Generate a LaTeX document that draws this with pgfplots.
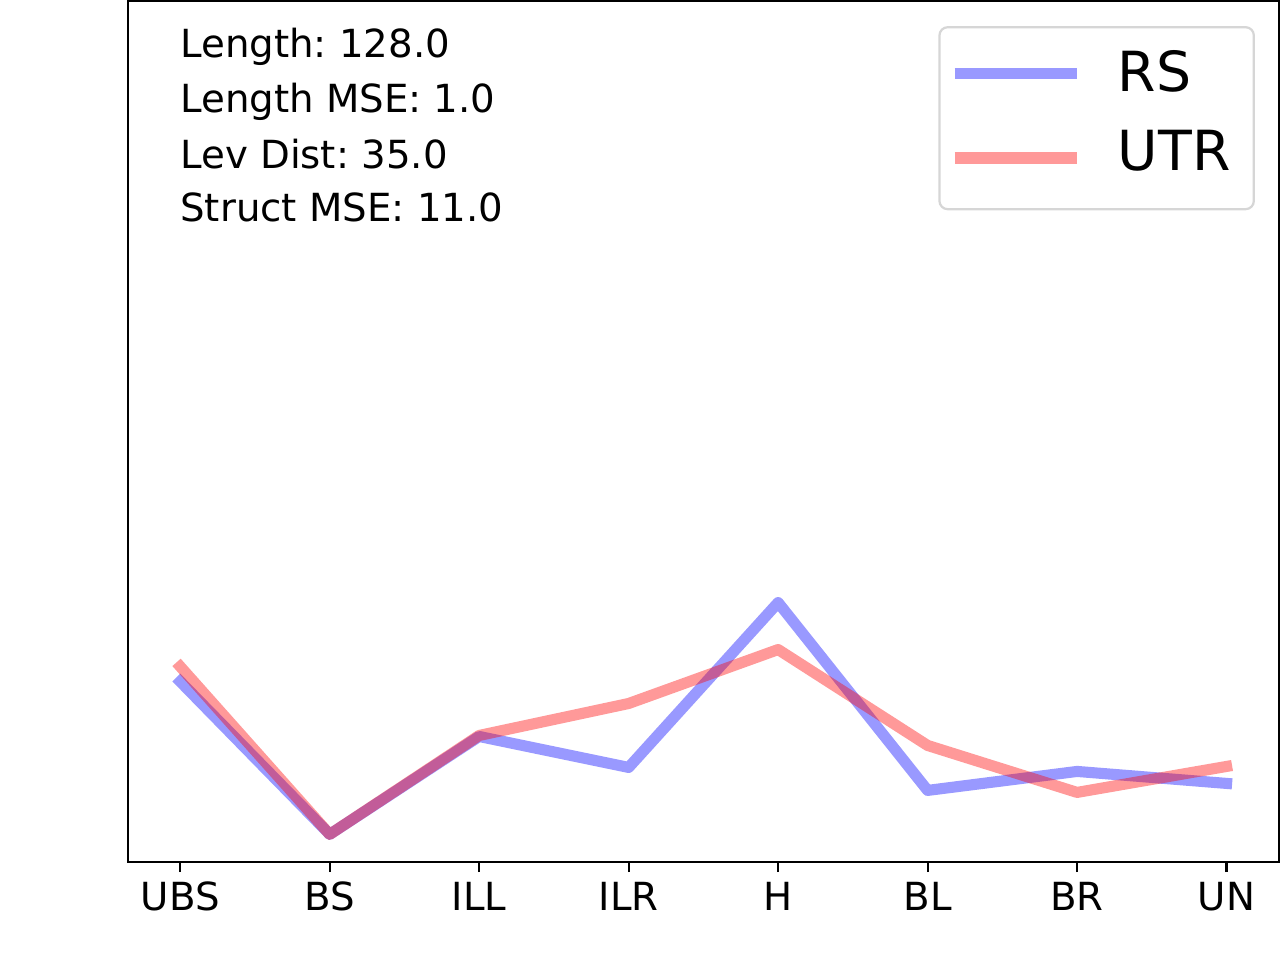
\documentclass[border=0pt]{standalone}
\usepackage{pgfplots}
\pgfplotsset{compat=1.18}
\usepackage{fontspec}
\setmainfont{DejaVu Sans}

% values, in its pixel scale (0 = x axis line)
\pgfplotstableread{
x rs  utr
0 181 196
1 28  28
2 126 127
3 95  159
4 260 213
5 72  117
6 91  70
7 79  96
}\scores

\begin{document}
\frenchspacing
\begin{tikzpicture}
\begin{axis}[
    name=ax, at={(0,0)}, anchor=south west,
    scale only axis,
    width=414.72bp, height=310.32bp,
    xmin=-0.35, xmax=7.35,
    ymin=0, ymax=862,
    xtick={0,...,7},
    xticklabels={UBS,BS,ILL,ILR,H,BL,BR,UN},
    ytick=\empty,
    xtick pos=bottom,
    tick align=outside,
    major tick length=3.5bp,
    every tick/.style={black, line width=0.8bp},
    axis line style={line width=0.8bp},
    ticklabel style={font=\fontsize{14}{17}\selectfont},
    legend image code/.code={\draw[#1, line width=4bp, line cap=butt] (0bp,0bp) -- (44bp,0bp);},
    legend cell align=left,
    legend style={
        at={(rel axis cs:0.9792,0.971)}, anchor=north east,
        draw=black!16, line width=0.8bp, rounded corners=3bp,
        font=\fontsize{20}{24}\selectfont,
        inner xsep=3.5bp, inner ysep=6.5bp,
        row sep=8.4bp,
        /tikz/every odd column/.append style={column sep=10.8bp}
    },
]
\addplot[blue, opacity=0.4, line width=4bp, line join=round, line cap=rect, mark=none]
    table[x=x, y=rs] {\scores};
\addlegendentry{RS}
\addplot[red, opacity=0.4, line width=4bp, line join=round, line cap=rect, mark=none]
    table[x=x, y=utr] {\scores};
\addlegendentry[text depth=5.4bp]{UTR\hspace{2.9bp}\null}

\node[anchor=base west, inner sep=0pt, font=\fontsize{14}{17}\selectfont] at (axis description cs:0.0451,0.935) {Length: 128.0};
\node[anchor=base west, inner sep=0pt, font=\fontsize{14}{17}\selectfont] at (axis description cs:0.0451,0.871) {Length MSE: 1.0};
\node[anchor=base west, inner sep=0pt, font=\fontsize{14}{17}\selectfont] at (axis description cs:0.0451,0.806) {Lev Dist: 35.0};
\node[anchor=base west, inner sep=0pt, font=\fontsize{14}{17}\selectfont] at (axis description cs:0.0451,0.744) {Struct MSE: 11.0};
\end{axis}
\path (ax.south west) ++(-46.08bp,-34.92bp) rectangle ([shift={(0bp,0.36bp)}]ax.north east);
\end{tikzpicture}
\end{document}
